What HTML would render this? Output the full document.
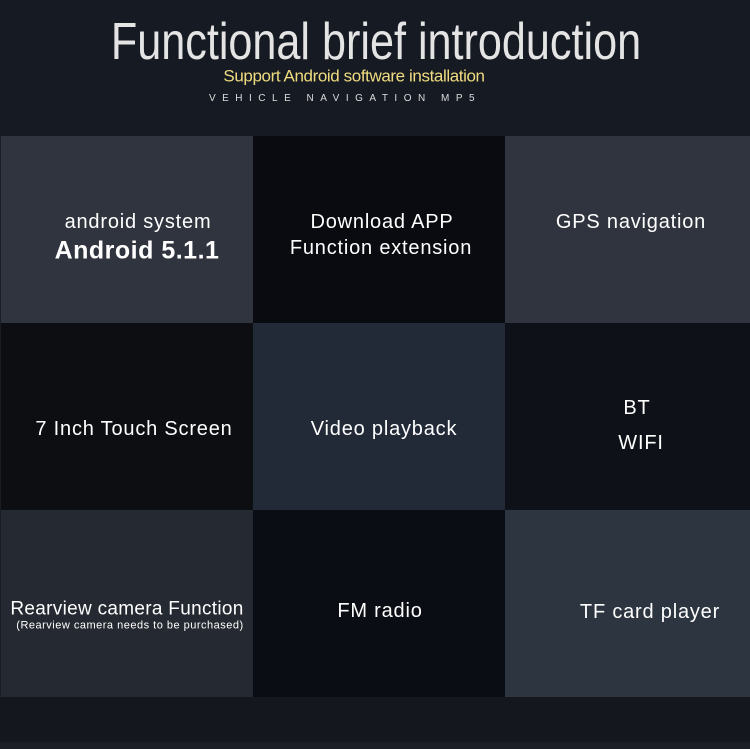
<!DOCTYPE html>
<html><head><style>
body{margin:0;width:750px;height:749px;background:#161a22;position:relative;overflow:hidden;font-family:"Liberation Sans",sans-serif;color:#fff}
.b{position:absolute}
.x{position:absolute;white-space:nowrap;transform:translate(-50%,-50%);font-size:20px;letter-spacing:0.8px;line-height:1}
</style></head><body>
<div class="b" style="left:0;top:136px;width:1px;height:561px;background:#1a1d24"></div>
<div class="b" style="left:1px;top:136px;width:252px;height:187px;background:#30343e"></div>
<div class="b" style="left:253px;top:136px;width:252px;height:187px;background:#090b10"></div>
<div class="b" style="left:505px;top:136px;width:245px;height:187px;background:#30343e"></div>
<div class="b" style="left:1px;top:323px;width:252px;height:187px;background:#0c0e12"></div>
<div class="b" style="left:253px;top:323px;width:252px;height:187px;background:#222a37"></div>
<div class="b" style="left:505px;top:323px;width:245px;height:187px;background:#0e1118"></div>
<div class="b" style="left:1px;top:510px;width:252px;height:187px;background:#252931"></div>
<div class="b" style="left:253px;top:510px;width:252px;height:187px;background:#0a0d13"></div>
<div class="b" style="left:505px;top:510px;width:245px;height:187px;background:#2d3540"></div>
<div class="b" style="left:0;top:697px;width:750px;height:45px;background:#14171d"></div>
<div class="b" style="left:0;top:742px;width:750px;height:7px;background:#1c1f26"></div>

<div class="x" style="left:376px;top:42px;font-size:52px;letter-spacing:0;color:#e4e4e4;transform:translate(-50%,-50%) scaleX(0.83)">Functional brief introduction</div>
<div class="x" style="left:354px;top:76px;font-size:17px;letter-spacing:-0.4px;color:#f0dc80">Support Android software installation</div>
<div class="x" style="left:345px;top:99px;font-size:10px;letter-spacing:6.5px;color:#ddd">VEHICLE NAVIGATION MP5</div>

<div class="x" style="left:138px;top:222px">android system</div>
<div class="x" style="left:137px;top:251px;font-size:25px;font-weight:bold;letter-spacing:0.5px">Android 5.1.1</div>
<div class="x" style="left:382px;top:222px">Download APP</div>
<div class="x" style="left:381px;top:248px">Function extension</div>
<div class="x" style="left:631px;top:222px">GPS navigation</div>
<div class="x" style="left:134px;top:429px">7 Inch Touch Screen</div>
<div class="x" style="left:384px;top:429px">Video playback</div>
<div class="x" style="left:637px;top:408px">BT</div>
<div class="x" style="left:641px;top:443px">WIFI</div>
<div class="x" style="left:127px;top:609px;font-size:19px;letter-spacing:0.3px">Rearview camera Function</div>
<div class="x" style="left:130px;top:626px;font-size:11px;letter-spacing:0.5px">(Rearview camera needs to be purchased)</div>
<div class="x" style="left:380px;top:611px">FM radio</div>
<div class="x" style="left:650px;top:612px">TF card player</div>
</body></html>
